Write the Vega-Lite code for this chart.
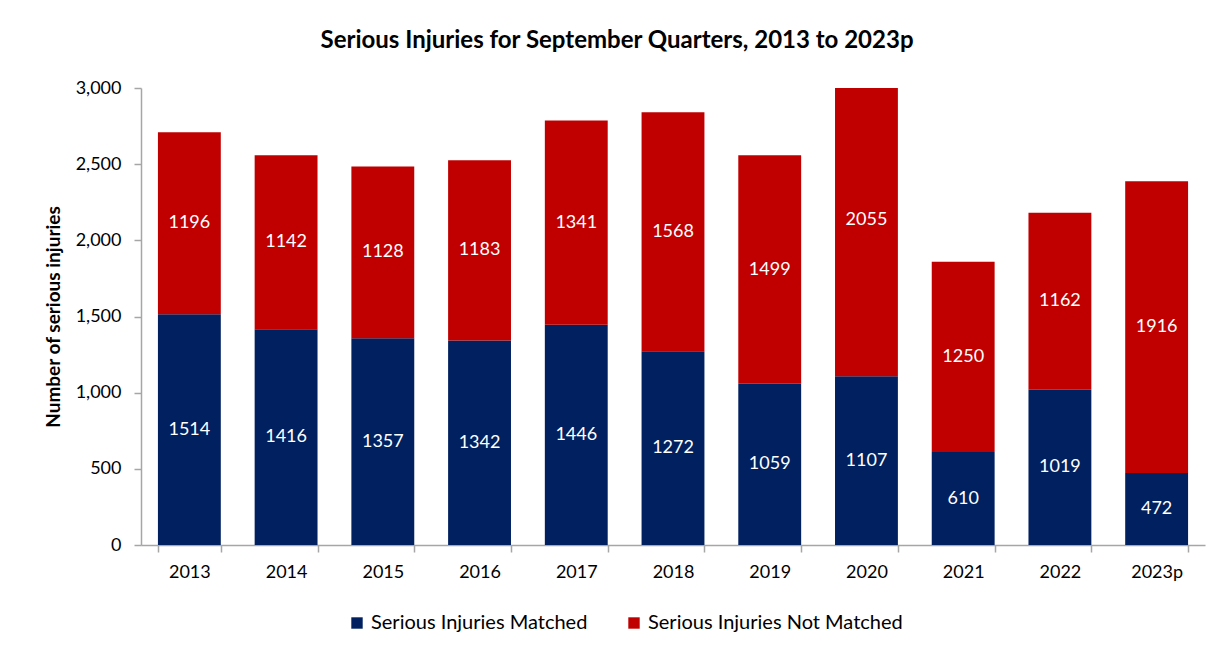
{
  "$schema": "https://vega.github.io/schema/vega-lite/v6.json",
  "width": 1064,
  "height": 457,
  "autosize": {"type": "none"},
  "padding": {"left": 141, "top": 88, "right": 27, "bottom": 114},
  "background": "white",
  "config": {
    "font": "Lato",
    "view": {"stroke": null}
  },
  "title": {
    "text": "Serious Injuries for September Quarters, 2013 to 2023p",
    "anchor": "middle",
    "dx": -56,
    "offset": 26,
    "fontSize": 24,
    "fontWeight": "bold",
    "font": "Lato",
    "color": "#000000"
  },
  "data": {
    "values": [
      {"year": "2013", "series": "Serious Injuries Matched", "order": 1, "value": 1514},
      {"year": "2013", "series": "Serious Injuries Not Matched", "order": 2, "value": 1196},
      {"year": "2014", "series": "Serious Injuries Matched", "order": 1, "value": 1416},
      {"year": "2014", "series": "Serious Injuries Not Matched", "order": 2, "value": 1142},
      {"year": "2015", "series": "Serious Injuries Matched", "order": 1, "value": 1357},
      {"year": "2015", "series": "Serious Injuries Not Matched", "order": 2, "value": 1128},
      {"year": "2016", "series": "Serious Injuries Matched", "order": 1, "value": 1342},
      {"year": "2016", "series": "Serious Injuries Not Matched", "order": 2, "value": 1183},
      {"year": "2017", "series": "Serious Injuries Matched", "order": 1, "value": 1446},
      {"year": "2017", "series": "Serious Injuries Not Matched", "order": 2, "value": 1341},
      {"year": "2018", "series": "Serious Injuries Matched", "order": 1, "value": 1272},
      {"year": "2018", "series": "Serious Injuries Not Matched", "order": 2, "value": 1568},
      {"year": "2019", "series": "Serious Injuries Matched", "order": 1, "value": 1059},
      {"year": "2019", "series": "Serious Injuries Not Matched", "order": 2, "value": 1499},
      {"year": "2020", "series": "Serious Injuries Matched", "order": 1, "value": 1107},
      {"year": "2020", "series": "Serious Injuries Not Matched", "order": 2, "value": 2055},
      {"year": "2021", "series": "Serious Injuries Matched", "order": 1, "value": 610},
      {"year": "2021", "series": "Serious Injuries Not Matched", "order": 2, "value": 1250},
      {"year": "2022", "series": "Serious Injuries Matched", "order": 1, "value": 1019},
      {"year": "2022", "series": "Serious Injuries Not Matched", "order": 2, "value": 1162},
      {"year": "2023p", "series": "Serious Injuries Matched", "order": 1, "value": 472},
      {"year": "2023p", "series": "Serious Injuries Not Matched", "order": 2, "value": 1916}
    ]
  },
  "transform": [
    {"stack": "value", "groupby": ["year"], "sort": [{"field": "order", "order": "ascending"}], "as": ["v0", "v1"]},
    {"calculate": "(datum.v0 + datum.v1) / 2", "as": "mid"}
  ],
  "encoding": {
    "x": {
      "field": "year",
      "type": "ordinal",
      "sort": null,
      "scale": {"paddingInner": 0.35, "paddingOuter": 0.175},
      "axis": {
        "title": null,
        "labelAngle": 0,
        "labelFontSize": 18,
        "labelColor": "#000000",
        "labelPadding": 11,
        "tickBand": "extent",
        "tickSize": 7,
        "tickColor": "#A6A6A6",
        "domainColor": "#A6A6A6",
        "tickWidth": 1.5,
        "domainWidth": 1.5
      }
    }
  },
  "layer": [
    {
      "mark": {"type": "bar", "clip": true},
      "encoding": {
        "y": {
          "field": "v0",
          "type": "quantitative",
          "scale": {"domain": [0, 3000]},
          "axis": {
            "title": "Number of serious injuries",
            "titleFontSize": 19,
            "titleFontWeight": "bold",
            "titleColor": "#000000",
            "titlePadding": 12,
            "values": [0, 500, 1000, 1500, 2000, 2500, 3000],
            "format": ",.0f",
            "grid": false,
            "labelFontSize": 18,
            "labelColor": "#000000",
            "labelPadding": 13,
            "tickSize": 7,
            "tickColor": "#A6A6A6",
            "domainColor": "#A6A6A6",
            "tickWidth": 1.5,
            "domainWidth": 1.5
          }
        },
        "y2": {"field": "v1"},
        "color": {
          "field": "series",
          "type": "nominal",
          "scale": {
            "domain": ["Serious Injuries Matched", "Serious Injuries Not Matched"],
            "range": ["#002060", "#C00000"]
          },
          "legend": {
            "title": null,
            "orient": "none",
            "direction": "horizontal",
            "legendX": 206,
            "legendY": 525,
            "symbolType": "square",
            "symbolSize": 130,
            "symbolStrokeWidth": 0,
            "labelFontSize": 20,
            "labelLimit": 0,
            "labelColor": "#000000",
            "labelOffset": 4,
            "columnPadding": 36
          }
        }
      }
    },
    {
      "mark": {"type": "text", "color": "white", "fontSize": 18, "baseline": "middle", "align": "center"},
      "encoding": {
        "y": {"field": "mid", "type": "quantitative"},
        "text": {"field": "value", "type": "quantitative"}
      }
    }
  ]
}
